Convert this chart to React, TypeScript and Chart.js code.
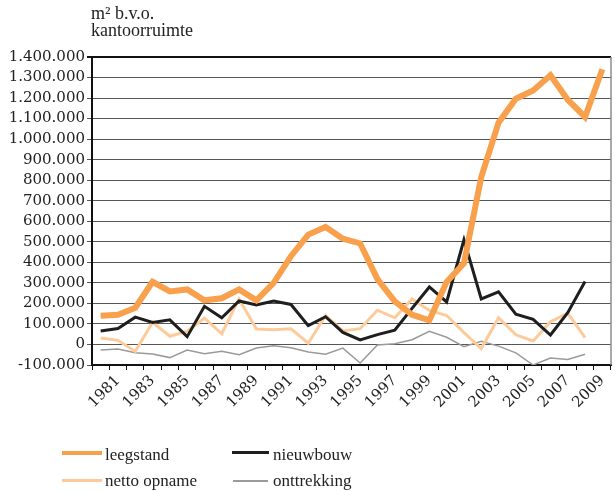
import React, { useEffect, useRef } from 'react';
import { Chart, registerables } from 'chart.js';

Chart.register(...registerables);

const years = [
  '1980', '1981', '1982', '1983', '1984', '1985', '1986', '1987', '1988', '1989',
  '1990', '1991', '1992', '1993', '1994', '1995', '1996', '1997', '1998', '1999',
  '2000', '2001', '2002', '2003', '2004', '2005', '2006', '2007', '2008', '2009',
];

const leegstand = [
  140000, 145000, 179000, 305000, 258000, 268000, 215000, 225000, 268000, 215000,
  300000, 430000, 535000, 572000, 515000, 492000, 318000, 210000, 145000, 118000,
  305000, 395000, 815000, 1080000, 1197000, 1237000, 1311000, 1192000, 1108000, 1340000,
];

const nieuwbouw = [
  66000, 78000, 133000, 107000, 120000, 38000, 186000, 130000, 212000, 192000,
  212000, 195000, 92000, 135000, 59000, 22000, 48000, 70000, 176000, 280000,
  207000, 510000, 222000, 256000, 147000, 122000, 46000, 155000, 307000,
];

const nettoOpname = [
  32000, 20000, -34000, 108000, 40000, 65000, 128000, 52000, 222000, 75000,
  72000, 76000, 6000, 141000, 66000, 77000, 167000, 130000, 222000, 166000,
  141000, 58000, -20000, 130000, 47000, 17000, 111000, 152000, 33000,
];

const onttrekking = [
  -27000, -22000, -40000, -46000, -64000, -27000, -45000, -33000, -50000, -17000,
  -6000, -16000, -37000, -48000, -18000, -90000, -2000, 3000, 23000, 64000,
  35000, -11000, 16000, -8000, -41000, -100000, -66000, -73000, -48000,
];

const Y_MIN = -100000;
const Y_MAX = 1400000;
const Y_STEP = 100000;

const COLORS = {
  leegstand: '#F9A04C',
  nieuwbouw: '#1E1E1E',
  netto: '#FDCB9A',
  onttrekking: '#9A9A9A',
};

const textFont = "'Liberation Serif', 'Times New Roman', serif";
const tickFont = "'DejaVu Serif', serif";

function fmt(v: number): string {
  const neg = v < 0;
  const s = Math.abs(Math.round(v)).toString().replace(/\B(?=(\d{3})+(?!\d))/g, '.');
  return (neg ? '-' : '') + s;
}

const rightBorder = {
  id: 'rightBorder',
  afterDraw(chart: any) {
    const { ctx, chartArea } = chart;
    ctx.save();
    ctx.strokeStyle = '#8c8c8c';
    ctx.lineWidth = 1.5;
    ctx.beginPath();
    ctx.moveTo(chartArea.right, chartArea.top);
    ctx.lineTo(chartArea.right, chartArea.bottom);
    ctx.stroke();
    ctx.restore();
  },
};

export default function App() {
  const ref = useRef<HTMLCanvasElement | null>(null);

  useEffect(() => {
    if (!ref.current) return;
    const chart = new Chart(ref.current, {
      type: 'line',
      data: {
        labels: years,
        datasets: [
          { label: 'leegstand', data: leegstand, borderColor: COLORS.leegstand, borderWidth: 6 },
          { label: 'nieuwbouw', data: nieuwbouw, borderColor: COLORS.nieuwbouw, borderWidth: 3 },
          { label: 'netto opname', data: nettoOpname, borderColor: COLORS.netto, borderWidth: 3 },
          { label: 'onttrekking', data: onttrekking, borderColor: COLORS.onttrekking, borderWidth: 1.5 },
        ],
      },
      options: {
        animation: false,
        responsive: false,
        maintainAspectRatio: false,
        layout: { padding: { left: 0, right: 4, top: 57, bottom: 0 } },
        elements: {
          point: { radius: 0, hoverRadius: 0 },
          line: { tension: 0, fill: false, borderCapStyle: 'butt', borderJoinStyle: 'miter' },
        },
        plugins: {
          legend: { display: false },
          tooltip: { enabled: false },
          title: { display: false },
        },
        scales: {
          x: {
            type: 'category',
            offset: true,
            grid: {
              offset: true,
              drawOnChartArea: false,
              drawTicks: true,
              tickLength: 5,
              color: '#111',
              lineWidth: 1,
            },
            border: { display: true, color: '#111', width: 2 },
            ticks: {
              autoSkip: false,
              maxRotation: 45,
              minRotation: 45,
              padding: 2,
              color: '#222',
              font: { family: tickFont, size: 15 },
              callback: (_v: any, i: number) => (i % 2 === 1 ? years[i] : ''),
            },
            afterFit: (s: any) => {
              s.height = 491 - 365;
              s.paddingLeft = 0;
              s.paddingRight = 0;
            },
          },
          y: {
            min: Y_MIN,
            max: Y_MAX,
            ticks: {
              stepSize: Y_STEP,
              autoSkip: false,
              color: '#222',
              padding: 2,
              font: { family: tickFont, size: 15, lineHeight: 1 },
              callback: (v: any) => fmt(Number(v)),
            },
            grid: {
              drawTicks: true,
              tickLength: 5,
              color: (c: any) => (c.tick && c.tick.value === Y_MAX ? '#111' : '#555'),
              lineWidth: (c: any) => (c.tick && c.tick.value === Y_MAX ? 2 : 1),
            },
            border: { display: true, color: '#111', width: 2 },
            afterFit: (s: any) => {
              s.width = 92;
              s.paddingTop = 0;
              s.paddingBottom = 0;
            },
          },
        },
      },
      plugins: [rightBorder],
    } as any);
    return () => chart.destroy();
  }, []);

  const legendText: React.CSSProperties = {
    position: 'absolute',
    fontFamily: textFont,
    fontSize: 17,
    lineHeight: '20px',
    color: '#222',
    whiteSpace: 'nowrap',
  };
  const line = (left: number, top: number, width: number, height: number, color: string): React.CSSProperties => ({
    position: 'absolute', left, top, width, height, background: color,
  });

  return (
    <div style={{ position: 'fixed', left: 0, top: 0, width: 615, height: 491, background: '#fff', overflow: 'hidden' }}>
      <canvas ref={ref} width={615} height={491} style={{ position: 'absolute', left: 0, top: 0 }} />
      <div style={{ position: 'absolute', left: 91, top: 5, fontFamily: textFont, fontSize: 18, lineHeight: '17px', color: '#222' }}>
        <div>m² b.v.o.</div>
        <div>kantoorruimte</div>
      </div>
      <div style={line(62, 451, 40, 4, COLORS.leegstand)} />
      <div style={{ ...legendText, left: 105, top: 445 }}>leegstand</div>
      <div style={line(232, 451, 37, 3, COLORS.nieuwbouw)} />
      <div style={{ ...legendText, left: 273, top: 445 }}>nieuwbouw</div>
      <div style={line(62, 479, 40, 3, COLORS.netto)} />
      <div style={{ ...legendText, left: 105, top: 471 }}>netto opname</div>
      <div style={line(233, 480, 35, 2, COLORS.onttrekking)} />
      <div style={{ ...legendText, left: 273, top: 471 }}>onttrekking</div>
    </div>
  );
}
